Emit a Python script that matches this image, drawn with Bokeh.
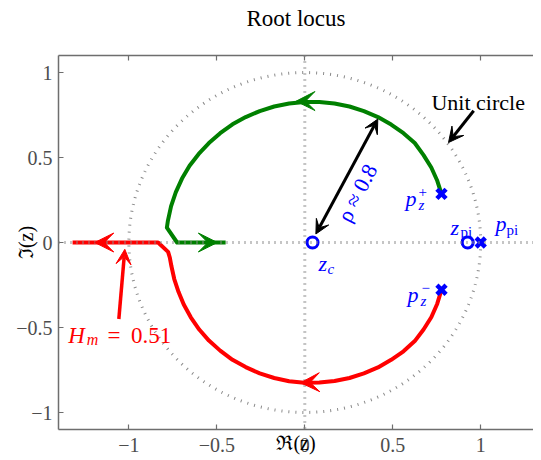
from bokeh.plotting import figure
from bokeh.models import Range1d, LinearAxis, FixedTicker, Arrow, VeeHead, Span
from bokeh.core.properties import value
from bokeh.embed import file_html
from bokeh.resources import INLINE

# ---- data ----
green_x = [0.777, 0.753, 0.719, 0.675, 0.625, 0.561, 0.491, 0.416, 0.336, 0.254, 0.169, 0.083,
           -0.003, -0.089, -0.174, -0.256, -0.336, -0.411, -0.481, -0.545, -0.603, -0.655,
           -0.698, -0.733, -0.760, -0.778, -0.784, -0.726, -0.45]
green_y = [0.286, 0.363, 0.441, 0.514, 0.585, 0.643, 0.694, 0.738, 0.773, 0.800, 0.818, 0.827,
           0.827, 0.818, 0.800, 0.773, 0.738, 0.695, 0.643, 0.585, 0.521, 0.451,
           0.376, 0.296, 0.214, 0.129, 0.087, 0.0, 0.0]
red_x = [0.777, 0.753, 0.719, 0.675, 0.625, 0.561, 0.491, 0.416, 0.336, 0.254, 0.169, 0.083,
         -0.003, -0.089, -0.174, -0.256, -0.336, -0.411, -0.481, -0.545, -0.600, -0.648,
         -0.688, -0.718, -0.742, -0.758, -0.767, -0.777, -0.834, -1.32]
red_y = [-0.278, -0.360, -0.440, -0.512, -0.580, -0.640, -0.690, -0.735, -0.770, -0.797, -0.815,
         -0.824, -0.825, -0.816, -0.797, -0.770, -0.733, -0.690, -0.636, -0.577, -0.512, -0.440,
         -0.365, -0.290, -0.215, -0.140, -0.090, -0.055, 0.0, 0.0]
zero_x = [0.044, 0.926]
zero_y = [0.0, 0.0]
pole_x = [0.777, 0.777, 1.0]
pole_y = [0.286, -0.278, 0.0]
ticks = [-1, -0.5, 0, 0.5, 1]
tick_labels = ["\u22121", "\u22120.5", "0", "0.5", "1"]
rho_text = "\u03c1 \u2248 0.8"
hm_value = "0.51"
title_text = "Root locus"

FONT = "Liberation Serif"
QFONT = "'Liberation Serif'"
GRAY = "#4d4d4d"
AXC = "#6e6e6e"

p = figure(width=533, height=460, x_range=Range1d(-1.4, 1.3), y_range=Range1d(-1.1, 1.1),
           output_backend="svg", toolbar_location=None, title=None,
           min_border_left=58, min_border_right=0, min_border_top=55, min_border_bottom=31)
p.outline_line_color = None
p.grid.visible = False
bottom_axis = p.below[0]
left_axis = p.left[0]

top_axis = LinearAxis()
p.add_layout(top_axis, "above")
for ax in [bottom_axis, left_axis, top_axis]:
    ax.ticker = FixedTicker(ticks=ticks)
    ax.major_tick_in = 5
    ax.major_tick_out = 0
    ax.minor_tick_in = 0
    ax.minor_tick_out = 0
    ax.axis_line_color = AXC
    ax.axis_line_width = 1.5
    ax.major_tick_line_color = AXC
    ax.major_tick_line_width = 1.2
    ax.major_label_text_font = QFONT
    ax.major_label_text_color = GRAY
    ax.major_label_text_font_size = "20px"
    ax.axis_label_text_font = QFONT
    ax.axis_label_text_font_size = "20px"
    ax.axis_label_text_font_style = "normal"
    ax.axis_label_text_color = "black"

# the title sits in the top axis' label slot
top_axis.major_label_overrides = {t: "" for t in ticks}
top_axis.major_label_text_font_size = "1px"
top_axis.major_label_standoff = 0
top_axis.axis_label = title_text
top_axis.axis_label_text_font_size = "23px"
top_axis.axis_label_standoff = 25

bottom_axis.major_label_overrides = dict(zip(ticks, tick_labels))
bottom_axis.major_label_standoff = 8
bottom_axis.axis_label = "\u211c(z)"
bottom_axis.axis_label_standoff = -23

left_axis.major_label_overrides = dict(zip(ticks, tick_labels))
left_axis.major_label_standoff = 6
left_axis.axis_label = "\u2111(z)"
left_axis.axis_label_standoff = -24

# dotted reference lines
for dim in ["width", "height"]:
    p.add_layout(Span(location=0, dimension=dim, line_color="#8a8a8a", line_width=3,
                      line_dash="1 5"))
p.ellipse(x=0, y=0, width=2, height=2, fill_color=None, line_color="#8a8a8a",
          line_width=3, line_dash="1 6")

# root locus branches
p.line(green_x, green_y, line_color="#008000", line_width=4, line_join="round")
p.line(red_x, red_y, line_color="#ff0000", line_width=4, line_join="round")


def head(color, size):
    return VeeHead(size=size, fill_color=color, line_color=color, line_width=1)


# direction arrows on the branches
for (xs, ys, xe, ye, c) in [(0.06, 0.832, -0.05, 0.831, "#008000"),
                            (-0.60, 0.0, -0.497, 0.0, "#008000"),
                            (0.08, -0.822, -0.024, -0.825, "#ff0000"),
                            (-1.10, 0.0, -1.194, 0.0, "#ff0000")]:
    p.add_layout(Arrow(end=head(c, 19), x_start=xs, y_start=ys, x_end=xe, y_end=ye,
                       line_alpha=0))

# annotation arrows
p.add_layout(Arrow(start=head("black", 14), end=head("black", 14), x_start=0.063, y_start=0.05,
                   x_end=0.415, y_end=0.726, line_width=3, line_color="black"))
p.add_layout(Arrow(end=head("black", 15), x_start=0.96, y_start=0.775, x_end=0.817, y_end=0.588,
                   line_width=3, line_color="black"))
p.add_layout(Arrow(end=head("#ff0000", 15), x_start=-1.057, y_start=-0.45, x_end=-1.023,
                   y_end=-0.04, line_width=3.5, line_color="#ff0000"))

# markers
p.scatter(zero_x, zero_y, marker="circle", size=11, fill_color="white", line_color="blue",
          line_width=3)
p.scatter(pole_x, pole_y, marker="x", size=13, line_color="blue", line_width=4.5)


def txt(x, y, s, size, color, italic=False, align="left", baseline="alphabetic", angle=0):
    p.text(x=[x], y=[y], text=[s], text_font=value(FONT), text_font_size=value(f"{size}px"),
           text_color=color, text_font_style="italic" if italic else "normal",
           text_align=align, text_baseline=baseline, angle=angle, angle_units="deg")


BLUE = "blue"
RED = "#ff0000"
txt(0.720, 0.822, "Unit circle", 22, "black")
# H_m = 0.51
txt(-1.345, -0.549, "H", 23, RED, italic=True)
txt(-1.240, -0.572, "m", 16, RED, italic=True)
txt(-1.122, -0.549, "=", 23, RED)
txt(-0.988, -0.549, hm_value, 23, RED)
# p_z^+
txt(0.572, 0.256, "p", 22, BLUE, italic=True)
txt(0.646, 0.298, "+", 15, BLUE)
txt(0.646, 0.222, "z", 15, BLUE, italic=True)
# p_z^-
txt(0.584, -0.308, "p", 22, BLUE, italic=True)
txt(0.663, -0.267, "\u2212", 15, BLUE)
txt(0.658, -0.343, "z", 15, BLUE, italic=True)
# z_pi
txt(0.828, 0.086, "z", 22, BLUE, italic=True)
txt(0.885, 0.063, "pi", 15, BLUE)
# p_pi
txt(1.084, 0.110, "p", 22, BLUE, italic=True)
txt(1.147, 0.075, "pi", 15, BLUE)
# z_c
txt(0.078, -0.125, "z", 22, BLUE, italic=True)
txt(0.129, -0.154, "c", 15, BLUE, italic=True)
# rho
txt(0.299, 0.292, rho_text, 22, BLUE, align="center", baseline="middle", angle=63)

open("out.html", "w").write(file_html(p, INLINE))
